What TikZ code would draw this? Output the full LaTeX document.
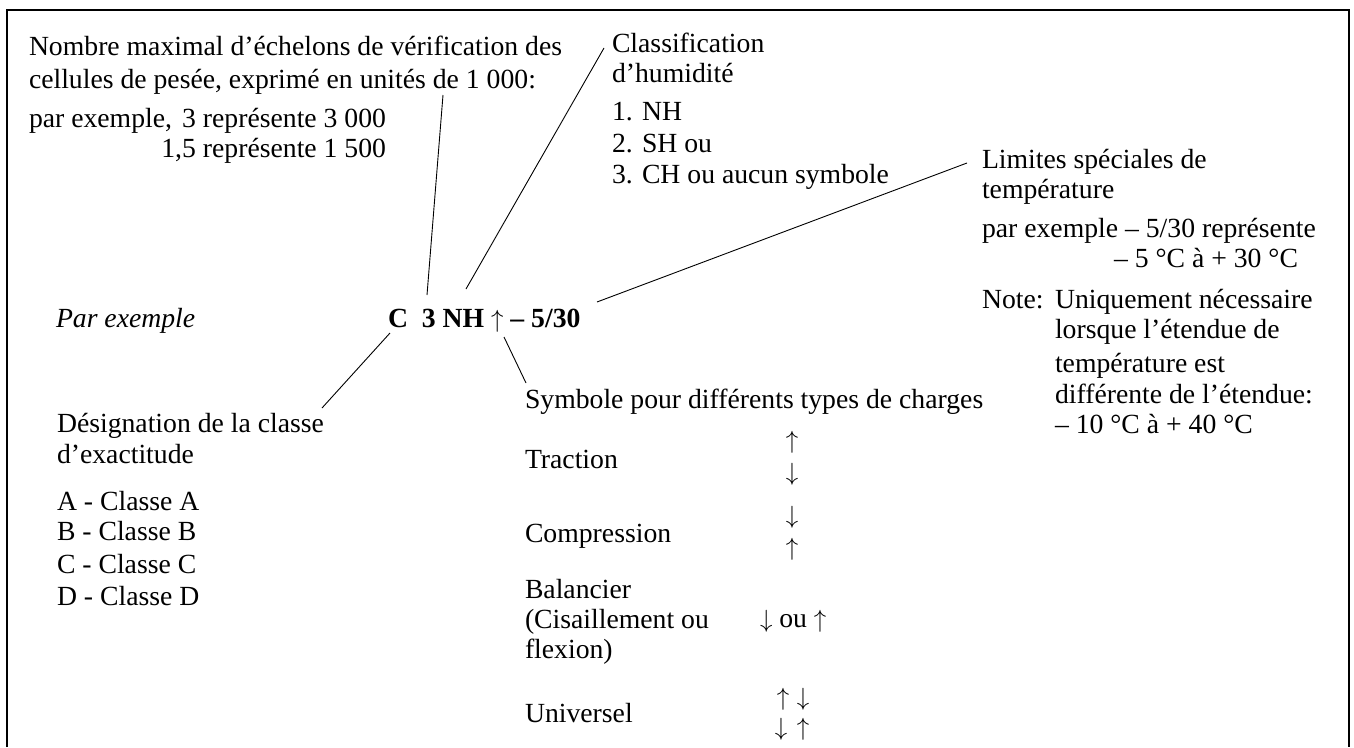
\documentclass[tikz,border=0pt]{standalone}
\usepackage{fontspec}
\setmainfont{Liberation Serif}
\begin{document}
\begin{tikzpicture}[x=1pt,y=-1pt,
  every node/.style={inner sep=0pt,outer sep=0pt,font=\fontsize{27.7}{30}\selectfont},
  txt/.style={anchor=base west},
  txte/.style={anchor=base east},
  txtc/.style={anchor=base},
  conn/.style={line width=0.9pt},
  framebox/.style={line width=1.3pt}]
\useasboundingbox (0,0) rectangle (1354,747);
\draw[framebox] (7,747) -- (7,10) -- (1349,10) -- (1349,747);

% top-left block
\node[txt] (n1a) at (29,55) {Nombre maximal d’échelons de vérification des};
\node[txt] (n1b) at (29,88) {cellules de pesée, exprimé en unités de 1 000:};
\node[txt] (n1c) at (29,127) {par exemple,};
\node[txte] (n1d) at (386,127) {3 représente 3 000};
\node[txte] (n1e) at (386,157) {1,5 représente 1 500};

% humidity block
\node[txt] (h1) at (612,52) {Classification};
\node[txt] (h2) at (612,82) {d’humidité};
\node[txt] (h3) at (612,120) {1. NH};
\node[txt] (h4) at (612,152) {2. SH ou};
\node[txt] (h5) at (612,183) {3. CH ou aucun symbole};

% temperature block
\node[txt] (l1) at (982,168) {Limites spéciales de};
\node[txt] (l2) at (982,198) {température};
\node[txt] (l3) at (982,237) {par exemple – 5/30 représente};
\node[txte] (l4) at (1298,267) {– 5 °C à + 30 °C};
\node[txt] (l5) at (982,308) {Note:};
\node[txt] (l6) at (1055,308) {Uniquement nécessaire};
\node[txt] (l7) at (1055,338) {lorsque l’étendue de};
\node[txt] (l8) at (1055,372) {température est};
\node[txt] (l9) at (1055,403) {différente de l’étendue:};
\node[txt] (l10) at (1055,433) {– 10 °C à + 40 °C};

% example
\node[txt] (pe) at (56,327) {\itshape Par exemple};
\node[txt] (code) at (388,327) {\bfseries C\ \ 3 NH $\uparrow$ – 5/30};

% class block
\node[txt] (c1) at (57,432) {Désignation de la classe};
\node[txt] (c2) at (57,463) {d’exactitude};
\node[txt] (c3) at (57,510) {A - Classe A};
\node[txt] (c4) at (57,540) {B - Classe B};
\node[txt] (c5) at (57,573) {C - Classe C};
\node[txt] (c6) at (57,605) {D - Classe D};

% load types block
\node[txt] (s0) at (525,408) {Symbole pour différents types de charges};
\node[txt] (s1) at (525,468) {Traction};
\node[txtc] (s1u) at (792,448) {$\uparrow$};
\node[txtc] (s1d) at (792,480) {$\downarrow$};
\node[txt] (s2) at (525,542) {Compression};
\node[txtc] (s2d) at (792,523) {$\downarrow$};
\node[txtc] (s2u) at (792,555) {$\uparrow$};
\node[txt] (s3a) at (525,598) {Balancier};
\node[txt] (s3b) at (525,628) {(Cisaillement ou};
\node[txt] (s3c) at (525,658) {flexion)};
\node[txt] (s3s) at (760,627) {$\downarrow$ ou $\uparrow$};
\node[txt] (s4) at (525,722) {Universel};
\node[txtc] (s4a) at (783,705) {$\uparrow$};
\node[txtc] (s4b) at (803,705) {$\downarrow$};
\node[txtc] (s4c) at (781,735) {$\downarrow$};
\node[txtc] (s4d) at (803,735) {$\uparrow$};

% connector ends
\coordinate (k3b) at (427,295);
\coordinate (k3t) at (443,95);
\coordinate (khb) at (466,289);
\coordinate (kht) at (604,48);
\coordinate (ktl) at (597,302);
\coordinate (ktr) at (967,163);
\coordinate (kct) at (390,333);
\coordinate (kcb) at (322,408);
\coordinate (kat) at (504,337);
\coordinate (kab) at (526,383);

\draw[conn] (k3b) -- (k3t);
\draw[conn] (khb) -- (kht);
\draw[conn] (ktl) -- (ktr);
\draw[conn] (kct) -- (kcb);
\draw[conn] (kat) -- (kab);
\end{tikzpicture}
\end{document}
